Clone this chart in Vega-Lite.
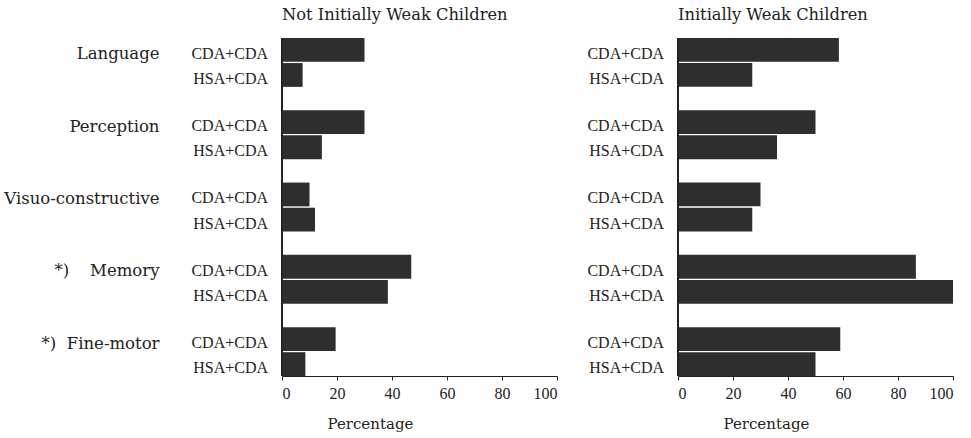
{
  "$schema": "https://vega.github.io/schema/vega-lite/v6.json",
  "padding": {"left": 3, "top": 6, "right": 0, "bottom": 6},
  "background": "white",
  "data": {
    "values": [
      {"panel": "Not Initially Weak Children", "domain": "Language", "group": "CDA+CDA", "value": 30},
      {"panel": "Not Initially Weak Children", "domain": "Language", "group": "HSA+CDA", "value": 7.5},
      {"panel": "Not Initially Weak Children", "domain": "Perception", "group": "CDA+CDA", "value": 30},
      {"panel": "Not Initially Weak Children", "domain": "Perception", "group": "HSA+CDA", "value": 14.5},
      {"panel": "Not Initially Weak Children", "domain": "Visuo-constructive", "group": "CDA+CDA", "value": 10},
      {"panel": "Not Initially Weak Children", "domain": "Visuo-constructive", "group": "HSA+CDA", "value": 12},
      {"panel": "Not Initially Weak Children", "domain": "*)\u00a0\u00a0\u00a0\u00a0Memory", "group": "CDA+CDA", "value": 47},
      {"panel": "Not Initially Weak Children", "domain": "*)\u00a0\u00a0\u00a0\u00a0Memory", "group": "HSA+CDA", "value": 38.5},
      {"panel": "Not Initially Weak Children", "domain": "*)\u00a0\u00a0Fine-motor", "group": "CDA+CDA", "value": 19.5},
      {"panel": "Not Initially Weak Children", "domain": "*)\u00a0\u00a0Fine-motor", "group": "HSA+CDA", "value": 8.5},
      {"panel": "Initially Weak Children", "domain": "Language", "group": "CDA+CDA", "value": 58.5},
      {"panel": "Initially Weak Children", "domain": "Language", "group": "HSA+CDA", "value": 27},
      {"panel": "Initially Weak Children", "domain": "Perception", "group": "CDA+CDA", "value": 50},
      {"panel": "Initially Weak Children", "domain": "Perception", "group": "HSA+CDA", "value": 36},
      {"panel": "Initially Weak Children", "domain": "Visuo-constructive", "group": "CDA+CDA", "value": 30},
      {"panel": "Initially Weak Children", "domain": "Visuo-constructive", "group": "HSA+CDA", "value": 27},
      {"panel": "Initially Weak Children", "domain": "*)\u00a0\u00a0\u00a0\u00a0Memory", "group": "CDA+CDA", "value": 86.5},
      {"panel": "Initially Weak Children", "domain": "*)\u00a0\u00a0\u00a0\u00a0Memory", "group": "HSA+CDA", "value": 100},
      {"panel": "Initially Weak Children", "domain": "*)\u00a0\u00a0Fine-motor", "group": "CDA+CDA", "value": 59},
      {"panel": "Initially Weak Children", "domain": "*)\u00a0\u00a0Fine-motor", "group": "HSA+CDA", "value": 50}
    ]
  },
  "facet": {
    "column": {
      "field": "panel",
      "type": "nominal",
      "sort": ["Not Initially Weak Children", "Initially Weak Children"],
      "header": {
        "title": null,
        "labelFont": "DejaVu Serif",
        "labelFontSize": 16.3,
        "labelColor": "#222222",
        "labelAnchor": "start",
        "labelPadding": 15
      }
    }
  },
  "spacing": 121,
  "bounds": "flush",
  "spec": {
    "width": 275,
    "height": 338,
    "layer": [
      {
        "mark": {"type": "bar", "color": "#2e2e2e"},
        "encoding": {
          "x": {
            "field": "value",
            "type": "quantitative",
            "scale": {"domain": [0, 100], "nice": false},
            "axis": {
              "title": "Percentage",
              "values": [0, 20, 40, 60, 80, 100],
              "grid": false,
              "domainColor": "#222222",
              "tickColor": "#222222",
              "tickSize": 4,
              "labelFont": "Liberation Serif",
              "labelFontSize": 16,
              "labelColor": "#222222",
              "labelPadding": 5,
              "titleFont": "DejaVu Serif",
              "titleFontSize": 15,
              "titleFontWeight": "normal",
              "titleColor": "#222222",
              "titlePadding": 15,
              "titleAnchor": "start",
              "titleAlign": "left",
              "titleX": 45
            }
          },
          "y": {
            "field": "domain",
            "type": "nominal",
            "scale": {
              "domain": ["Language", "Perception", "Visuo-constructive", "*)\u00a0\u00a0\u00a0\u00a0Memory", "*)\u00a0\u00a0Fine-motor"],
              "paddingInner": 0.324,
              "paddingOuter": 0
            },
            "axis": {
              "title": null,
              "ticks": false,
              "domain": false,
              "labelFont": "DejaVu Serif",
              "labelFontSize": 16.5,
              "labelColor": "#222222",
              "labelPadding": 123,
              "labelOffset": -8,
              "labelLimit": 300
            }
          },
          "yOffset": {
            "field": "group",
            "type": "nominal",
            "scale": {"domain": ["CDA+CDA", "HSA+CDA"], "paddingInner": 0.05, "paddingOuter": 0}
          }
        }
      },
      {
        "mark": {"type": "text", "align": "right", "baseline": "middle", "dx": -14, "dy": 4, "font": "Liberation Serif", "fontSize": 16, "color": "#222222"},
        "encoding": {
          "x": {"datum": 0, "type": "quantitative"},
          "y": {"field": "domain", "type": "nominal"},
          "yOffset": {"field": "group", "type": "nominal"},
          "text": {"field": "group", "type": "nominal"}
        }
      },
      {
        "mark": {"type": "rule", "color": "#222222", "strokeWidth": 1},
        "encoding": {"x": {"datum": 0, "type": "quantitative"}}
      }
    ]
  },
  "config": {
    "view": {"stroke": null},
    "axis": {"grid": false}
  }
}
